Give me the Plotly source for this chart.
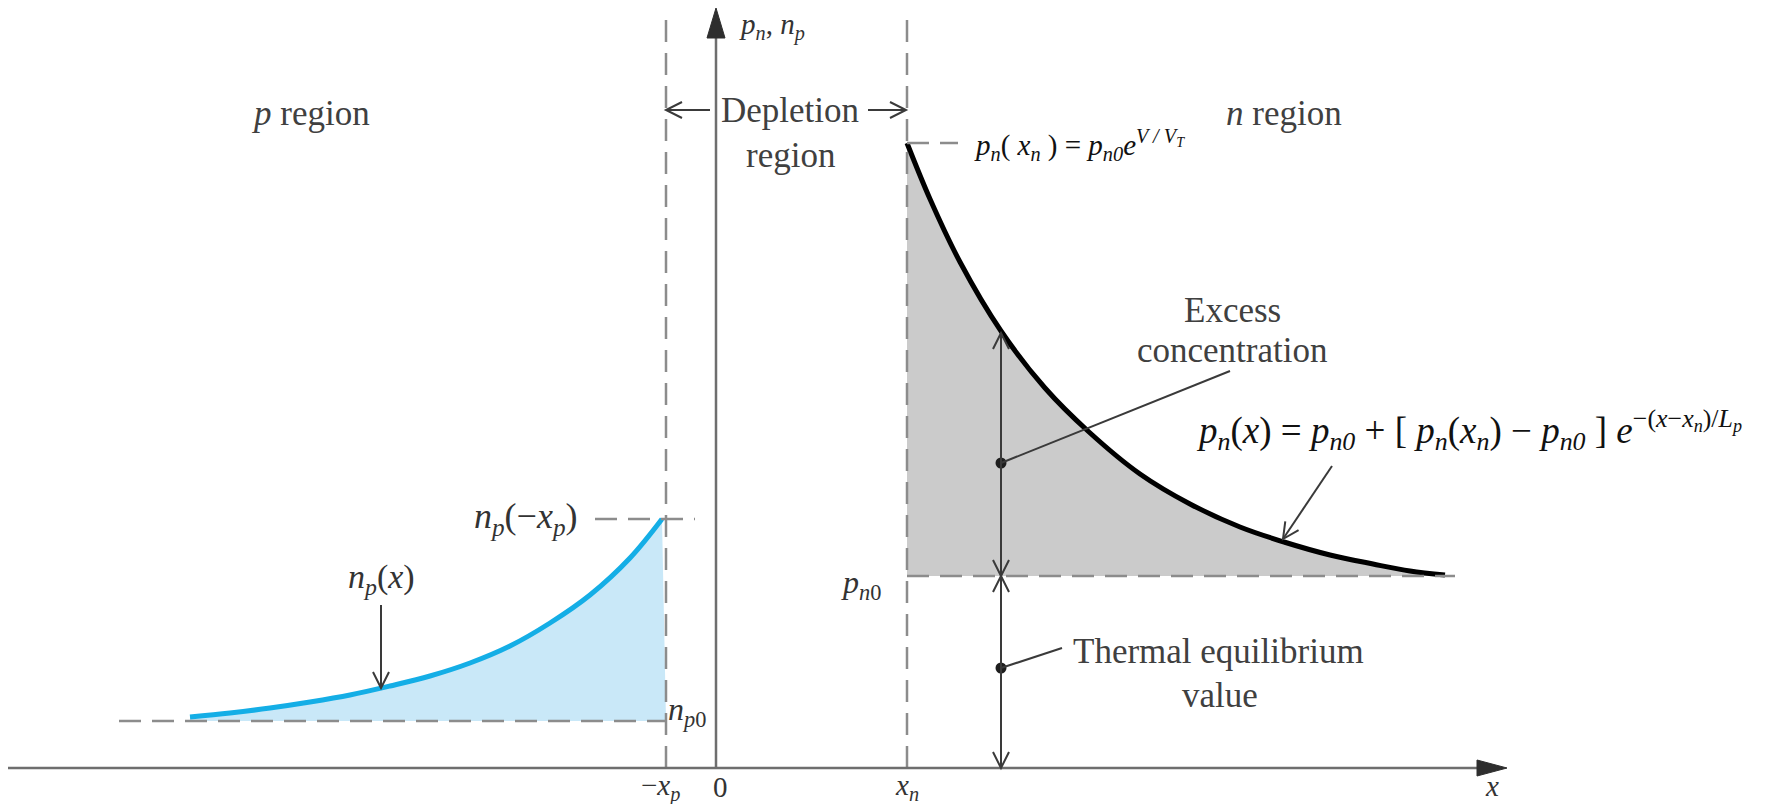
import math
import plotly.graph_objects as go

# ---------------- data (diagram units: 1 unit = 1 px, origin at axes crossing) ----------------
x_p_neg = -50          # -x_p
x_n = 191              # x_n
n_p0 = 47              # thermal equilibrium electron conc. in p region
n_p_edge = 249         # n_p(-x_p)
p_n0 = 192             # thermal equilibrium hole conc. in n region
p_n_edge = 625         # p_n(x_n)
x_axis_end = 791
y_axis_top = 760

# n_p(x) curve (p region)
np_x = [-526, -486, -446, -406, -366, -326, -286, -246, -206, -166, -126, -86, -54]
np_y = [51, 55, 60, 66, 73, 82, 92, 105, 122, 145, 173, 210, 249]

# p_n(x) curve (n region)
pn_x = [191, 214, 244, 285, 329, 373, 424, 474, 524, 568, 614, 657, 694, 729]
pn_y = [625, 569, 506, 437, 380, 336, 294, 264, 241, 226, 213, 204, 197, 193]

FONT = "Liberation Serif"
GRAY_LINE = "#6e6e6e"
DASH_COL = "#8c8c8c"
ARROW_COL = "#3a3a3a"
TEXT_COL = "#404040"

fig = go.Figure()

# ---------------- fills and curves ----------------
fig.add_trace(go.Scatter(x=[np_x[0], x_p_neg], y=[n_p0, n_p0], mode="lines",
                         line=dict(width=0, color="rgba(0,0,0,0)"), hoverinfo="skip"))
fig.add_trace(go.Scatter(x=np_x, y=np_y, mode="lines", fill="tonexty",
                         fillcolor="#c9e8f8", line=dict(width=0, shape="spline", color="rgba(0,0,0,0)"),
                         hoverinfo="skip"))
fig.add_trace(go.Scatter(x=[x_n, pn_x[-1]], y=[p_n0, p_n0], mode="lines",
                         line=dict(width=0, color="rgba(0,0,0,0)"), hoverinfo="skip"))
fig.add_trace(go.Scatter(x=pn_x, y=pn_y, mode="lines", fill="tonexty",
                         fillcolor="#cbcbcb", line=dict(width=0, shape="spline", color="rgba(0,0,0,0)"),
                         hoverinfo="skip"))

shapes = []


def line(x0, y0, x1, y1, color=GRAY_LINE, width=2, dash=None):
    shapes.append(dict(type="line", xref="x", yref="y", x0=x0, y0=y0, x1=x1, y1=y1,
                       line=dict(color=color, width=width, dash=dash), layer="above"))


def dashed(x0, y0, x1, y1):
    line(x0, y0, x1, y1, color=DASH_COL, width=2.5, dash="22px,11px")


def chevron(tx, ty, dx, dy, L=16, W=8, color=ARROW_COL, width=2):
    n = math.hypot(dx, dy)
    ux, uy = dx / n, dy / n
    bx, by = tx - L * ux, ty - L * uy
    px, py = -uy, ux
    p = (f"M {bx + W * px},{by + W * py} L {tx},{ty} L {bx - W * px},{by - W * py}")
    shapes.append(dict(type="path", xref="x", yref="y", path=p,
                       line=dict(color=color, width=width), layer="above"))


def tri(tx, ty, dx, dy, L=30, W=9, color="#2e2e2e"):
    n = math.hypot(dx, dy)
    ux, uy = dx / n, dy / n
    bx, by = tx - L * ux, ty - L * uy
    px, py = -uy, ux
    p = (f"M {bx + W * px},{by + W * py} L {tx},{ty} L {bx - W * px},{by - W * py} Z")
    shapes.append(dict(type="path", xref="x", yref="y", path=p, fillcolor=color,
                       line=dict(color=color, width=1), layer="above"))


def arrow(x0, y0, x1, y1, color=ARROW_COL, width=2):
    line(x0, y0, x1, y1, color=color, width=width)
    chevron(x1, y1, x1 - x0, y1 - y0, color=color, width=width)


# dashed guide lines
dashed(x_p_neg, 0, x_p_neg, 750)
dashed(x_n, 0, x_n, 750)
dashed(-597, n_p0, x_p_neg, n_p0)
dashed(-121, n_p_edge, -21, n_p_edge)
dashed(x_n, p_n_edge, 242, p_n_edge)
dashed(x_n, p_n0, 739, p_n0)

# axes
line(-716, 0, x_axis_end - 20, 0, color=GRAY_LINE, width=2.5)
tri(x_axis_end, 0, 1, 0, L=30, W=8)
line(0, 0, 0, y_axis_top - 20, color=GRAY_LINE, width=2.5)
tri(0, y_axis_top, 0, 1, L=30, W=9)

# depletion region arrows
arrow(-6, 658, x_p_neg, 658)
arrow(152, 658, x_n - 1, 658)

# excess concentration double arrow
ex_x = 285
line(ex_x, p_n0, ex_x, 435, color=ARROW_COL)
chevron(ex_x, 435, 0, 1)
chevron(ex_x, p_n0, 0, -1)
# thermal equilibrium double arrow
line(ex_x, 0, ex_x, p_n0, color=ARROW_COL)
chevron(ex_x, p_n0, 0, 1)
chevron(ex_x, 0, 0, -1)

# callout lines
line(ex_x, 305, 514, 397, color=ARROW_COL, width=2)
line(ex_x, 100, 346, 120, color=ARROW_COL, width=2)
arrow(616, 302, 567, 229)
arrow(-335, 163, -335, 80)

fig.add_trace(go.Scatter(x=[ex_x, ex_x], y=[305, 100], mode="markers",
                         marker=dict(size=11, color="#1e1e1e"), hoverinfo="skip"))

# curves on top
fig.add_trace(go.Scatter(x=np_x, y=np_y, mode="lines",
                         line=dict(width=5, shape="spline", color="#14aee6"), hoverinfo="skip"))
fig.add_trace(go.Scatter(x=pn_x, y=pn_y, mode="lines",
                         line=dict(width=5, shape="spline", color="#000000"), hoverinfo="skip"))

# ---------------- text ----------------
ann = []


def text(x, y, s, size=35, anchor="center", color=TEXT_COL):
    ann.append(dict(x=x, y=y, xref="x", yref="y", text=s, showarrow=False,
                    xanchor=anchor, yanchor="middle", borderpad=0,
                    font=dict(family=FONT, size=size, color=color)))


text(-466, 655, "<i>p</i> region", anchor="left")
text(509, 655, "<i>n</i> region", anchor="left")
text(74, 658, "Depletion")
text(74, 613, "region")
text(22, 742, "<i>p<sub>n</sub></i>, <i>n<sub>p</sub></i>", size=29, anchor="left", color="#333333")
text(257, 623, "<i>p<sub>n</sub></i>( <i>x<sub>n</sub></i> ) = <i>p<sub>n0</sub>e<sup>V / V<sub>T</sub></sup></i>",
     size=29, anchor="left", color="#111111")
text(-138, 250, "<i>n<sub>p</sub></i>(−<i>x<sub>p</sub></i>)", size=36, anchor="right", color="#333333")
text(-335, 189, "<i>n<sub>p</sub></i>(<i>x</i>)", size=34, color="#333333")
text(-49, 57, "<i>n<sub>p</sub></i><sub>0</sub>", size=32, anchor="left", color="#333333")
text(124, 184, "<i>p<sub>n</sub></i><sub>0</sub>", size=32, anchor="left", color="#333333")
text(516, 458, "Excess")
text(516, 418, "concentration")
text(479, 338,
     "<i>p<sub>n</sub></i>(<i>x</i>) = <i>p<sub>n0</sub></i> + [ <i>p<sub>n</sub></i>(<i>x<sub>n</sub></i>) − "
     "<i>p<sub>n0</sub></i> ] <i>e</i><sup>−(<i>x</i>−<i>x<sub>n</sub></i>)/<i>L<sub>p</sub></i></sup>",
     size=37, anchor="left", color="#111111")
text(356, 117, "Thermal equilibrium", anchor="left")
text(504, 73, "value")
text(-56, -19, "−<i>x<sub>p</sub></i>", size=29, color="#333333")
text(4, -19, "0", size=29, color="#333333")
text(191, -19, "<i>x<sub>n</sub></i>", size=29, color="#333333")
text(776, -18, "<i>x</i>", size=29, color="#333333")

fig.update_layout(
    width=1751, height=796,
    margin=dict(l=0, r=0, t=0, b=0),
    paper_bgcolor="white", plot_bgcolor="white",
    showlegend=False,
    xaxis=dict(visible=False, range=[-708, 1043], fixedrange=True),
    yaxis=dict(visible=False, range=[-36, 760], fixedrange=True),
    shapes=shapes,
    annotations=ann,
)

fig.write_html("out.html")
